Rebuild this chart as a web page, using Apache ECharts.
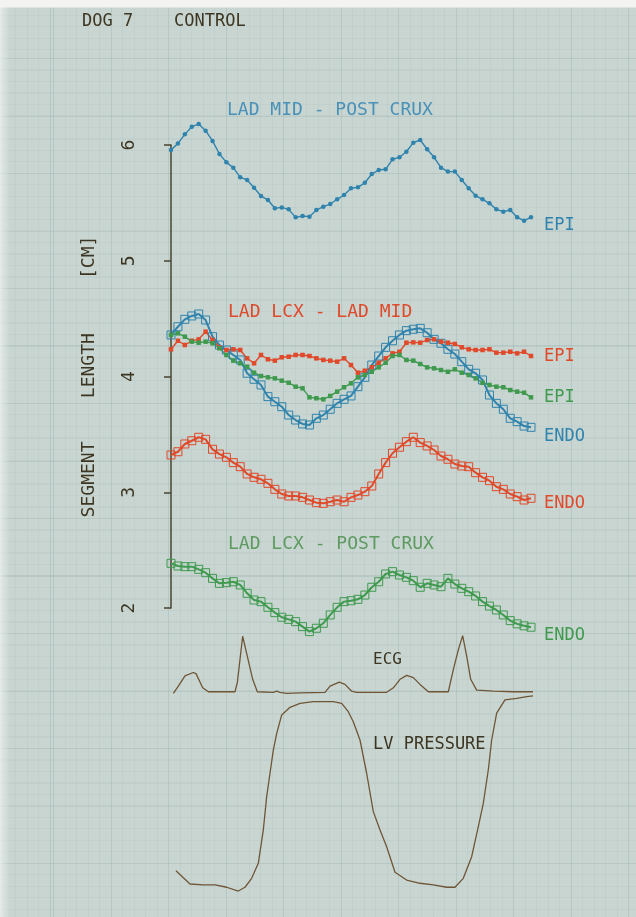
<!DOCTYPE html>
<html>
<head>
<meta charset="utf-8">
<script src="https://cdn.jsdelivr.net/npm/echarts@6/dist/echarts.min.js"></script>
<style>
html,body{margin:0;padding:0;}
#chart{
  width:636px;height:917px;
  background-color:#c8d5d1;
  background-image:
    linear-gradient(to bottom, #f3f4f1 0, #f3f4f1 7px, rgba(0,0,0,0) 8px),
    linear-gradient(to right, rgba(235,240,238,0.8) 0, rgba(235,240,238,0.0) 10px),
    repeating-linear-gradient(to right, rgba(100,135,135,0.12) 0 1px, rgba(0,0,0,0) 1px 57.5px),
    repeating-linear-gradient(to bottom, rgba(100,135,135,0.12) 0 1px, rgba(0,0,0,0) 1px 57.5px),
    repeating-linear-gradient(to right, rgba(100,135,135,0.06) 0 1px, rgba(0,0,0,0) 1px 11.5px),
    repeating-linear-gradient(to bottom, rgba(100,135,135,0.06) 0 1px, rgba(0,0,0,0) 1px 11.5px);
  background-position:0 0,0 0,53px 0,0 58px,53px 0,0 58px;
}
</style>
</head>
<body>
<div id="chart"></div>
<script>
// ---- data (segment length, cm) sampled at 53 equally spaced instants ----
const yTicks = [2, 3, 4, 5, 6];
const ladMidPostCruxEpi = [5.957,6.014,6.092,6.158,6.181,6.124,6.035,5.922,5.850,5.804,5.721,5.698,5.631,5.559,5.525,5.453,5.461,5.444,5.375,5.387,5.381,5.438,5.467,5.490,5.531,5.568,5.626,5.634,5.674,5.749,5.784,5.790,5.876,5.894,5.942,6.020,6.043,5.963,5.894,5.804,5.770,5.770,5.698,5.626,5.562,5.531,5.496,5.444,5.424,5.438,5.375,5.346,5.375];
const ladLcxLadMidEpi = [4.235,4.309,4.272,4.309,4.321,4.387,4.315,4.252,4.229,4.235,4.229,4.157,4.114,4.186,4.149,4.137,4.166,4.171,4.186,4.186,4.177,4.157,4.143,4.137,4.128,4.157,4.099,4.033,4.050,4.079,4.119,4.157,4.200,4.214,4.292,4.295,4.292,4.315,4.321,4.301,4.292,4.281,4.252,4.235,4.229,4.229,4.235,4.206,4.206,4.214,4.200,4.214,4.177];
const ladLcxPostCruxEpi = [4.359,4.373,4.344,4.301,4.292,4.301,4.287,4.244,4.186,4.137,4.114,4.085,4.033,4.004,3.993,3.984,3.964,3.946,3.912,3.898,3.820,3.812,3.803,3.832,3.869,3.907,3.941,3.993,4.013,4.041,4.079,4.119,4.177,4.186,4.143,4.137,4.108,4.079,4.071,4.056,4.041,4.062,4.033,4.013,3.984,3.946,3.927,3.912,3.907,3.883,3.869,3.860,3.820];
const ladMidPostCruxEndo = [4.359,4.430,4.494,4.523,4.540,4.488,4.344,4.272,4.229,4.186,4.143,4.028,3.976,3.927,3.826,3.782,3.739,3.667,3.624,3.590,3.581,3.639,3.667,3.717,3.768,3.803,3.832,3.912,3.993,4.099,4.177,4.252,4.309,4.359,4.396,4.408,4.416,4.378,4.321,4.287,4.235,4.194,4.128,4.062,4.028,3.970,3.840,3.768,3.717,3.639,3.610,3.572,3.561];
const ladLcxLadMidEndo = [3.322,3.350,3.417,3.445,3.475,3.457,3.371,3.330,3.302,3.256,3.221,3.158,3.129,3.112,3.077,3.025,2.985,2.968,2.968,2.956,2.933,2.910,2.904,2.918,2.933,2.918,2.956,2.976,3.005,3.054,3.158,3.256,3.337,3.389,3.437,3.475,3.429,3.400,3.365,3.313,3.285,3.244,3.227,3.221,3.169,3.129,3.100,3.048,3.025,2.985,2.962,2.933,2.948];
const ladLcxPostCruxEndo = [2.386,2.363,2.357,2.357,2.334,2.305,2.256,2.213,2.219,2.227,2.199,2.127,2.069,2.055,2.006,1.960,1.920,1.902,1.882,1.839,1.796,1.825,1.868,1.940,2.006,2.055,2.063,2.075,2.112,2.179,2.227,2.294,2.314,2.285,2.265,2.236,2.179,2.213,2.199,2.184,2.256,2.207,2.170,2.141,2.104,2.055,2.017,1.983,1.940,1.891,1.863,1.846,1.834];

// ---- ECG (time in sample units, relative amplitude) ----
const ecgT = [0.34,1.06,2.02,3.22,3.61,4.58,5.39,9.24,9.58,10.35,11.02,11.80,12.47,14.78,15.26,15.74,16.71,18.63,22.24,22.97,24.31,25.13,26.10,26.82,31.15,32.12,33.08,34.04,35.00,35.97,37.17,40.06,40.78,41.50,42.13,42.71,43.29,44.15,46.56,49.45,52.33];
const ecgA = [-0.02,0.11,0.29,0.35,0.33,0.08,0.01,0.01,0.17,0.99,0.64,0.23,0.01,0.00,0.02,0.00,-0.02,-0.01,0.00,0.11,0.18,0.14,0.02,0.00,0.00,0.08,0.23,0.30,0.26,0.14,0.01,0.01,0.40,0.75,1.00,0.64,0.23,0.04,0.02,0.01,0.01];

// ---- LV pressure (time in sample units, mmHg) ----
const lvT = [0.72,2.74,4.67,6.36,8.04,9.72,10.69,11.65,12.61,13.33,13.82,14.30,14.78,15.27,15.99,17.19,18.63,20.56,23.44,24.65,25.61,26.33,27.30,28.26,29.22,30.19,31.15,32.36,34.04,35.97,37.89,39.82,41.02,42.22,43.43,44.39,45.11,45.83,46.32,47.04,48.24,49.93,51.38,52.33];
const lvP = [11.2,4.2,3.7,3.7,2.5,0.5,2.5,7.2,15.1,32.6,50.2,62.5,74.7,83.5,93.2,97.2,99.3,100.2,100.2,99.3,94.9,89.6,80.0,62.5,42.3,32.6,23.8,10.4,6.3,4.6,3.7,2.5,2.5,7.2,18.6,34.4,46.7,64.2,80.0,94.1,101.1,101.9,102.8,103.2];

const FONT = '"DejaVu Sans Mono", "Liberation Mono", monospace';
const BLUE = '#2f83ad', RED = '#e0492a', GREEN = '#3f9a4e', INK = '#3d3622', TRACE = '#6f5536';

const idx = arr => arr.map((v, i) => [i, v]);
const pair = (t, v) => t.map((x, i) => [x, v[i]]);

function epi(name, data, color, sym, dy) {
  return {
    name, type: 'line', xAxisIndex: 0, yAxisIndex: 0, data: idx(data), clip: false,
    symbol: sym, symbolSize: 4.5, showSymbol: true,
    lineStyle: { color, width: 1.4 }, itemStyle: { color },
    endLabel: { show: true, formatter: 'EPI', color, fontFamily: FONT, fontSize: 17, distance: 13, offset: [0, dy] }
  };
}
function endo(name, data, color, dy) {
  return {
    name, type: 'line', xAxisIndex: 0, yAxisIndex: 0, data: idx(data), clip: false,
    symbol: 'rect', symbolSize: 8, showSymbol: true,
    lineStyle: { color, width: 2 },
    itemStyle: { color: 'rgba(0,0,0,0)', borderColor: color, borderWidth: 1 },
    endLabel: { show: true, formatter: 'ENDO', color, fontFamily: FONT, fontSize: 17, distance: 13, offset: [0, dy] }
  };
}

const chart = echarts.init(document.getElementById('chart'), null, { renderer: 'canvas' });
const hiddenX = gi => ({ type: 'value', gridIndex: gi, min: 0, max: 52, show: false });

chart.setOption({
  animation: false,
  backgroundColor: 'transparent',
  grid: [
    { left: 171, top: 145, width: 360, height: 463 },
    { left: 171, top: 630, width: 360, height: 68 },
    { left: 171, top: 683, width: 360, height: 209 }
  ],
  xAxis: [hiddenX(0), hiddenX(1), hiddenX(2)],
  yAxis: [
    {
      type: 'value', gridIndex: 0, min: yTicks[0], max: yTicks[yTicks.length - 1], interval: 1,
      position: 'left', offset: 29,
      axisLine: { show: true, lineStyle: { color: '#4a4430', width: 1.5 } },
      axisTick: { show: true, length: 7, lineStyle: { color: '#4a4430', width: 1.5 } },
      axisLabel: { rotate: 90, margin: 4, color: INK, fontFamily: FONT, fontSize: 18 },
      splitLine: { show: false },
      name: 'SEGMENT    LENGTH     [CM]', nameLocation: 'middle', nameRotate: 90, nameGap: 44,
      nameTextStyle: { color: INK, fontFamily: FONT, fontSize: 18, padding: [0, 0, 0, 0] }
    },
    { type: 'value', gridIndex: 1, min: -0.1, max: 1.1, show: false },
    { type: 'value', gridIndex: 2, min: 0, max: 110, show: false }
  ],
  graphic: [
    { type: 'text', left: 82, top: 13, style: { text: 'DOG 7    CONTROL', fill: INK, font: '17px ' + FONT } },
    { type: 'text', left: 227, top: 101, style: { text: 'LAD MID - POST CRUX', fill: '#4a91b8', font: '18px ' + FONT } },
    { type: 'text', left: 228, top: 303, style: { text: 'LAD LCX - LAD MID', fill: RED, font: '18px ' + FONT } },
    { type: 'text', left: 228, top: 535, style: { text: 'LAD LCX - POST CRUX', fill: '#5e9a60', font: '18px ' + FONT } },
    { type: 'text', left: 373, top: 652, style: { text: 'ECG', fill: INK, font: '16px ' + FONT } },
    { type: 'text', left: 373, top: 736, style: { text: 'LV PRESSURE', fill: INK, font: '17px ' + FONT } }
  ],
  series: [
    epi('LAD MID - POST CRUX EPI', ladMidPostCruxEpi, BLUE, 'circle', 8),
    endo('LAD MID - POST CRUX ENDO', ladMidPostCruxEndo, BLUE, 9),
    epi('LAD LCX - LAD MID EPI', ladLcxLadMidEpi, RED, 'rect', 1),
    endo('LAD LCX - LAD MID ENDO', ladLcxLadMidEndo, RED, 5),
    epi('LAD LCX - POST CRUX EPI', ladLcxPostCruxEpi, GREEN, 'rect', 0),
    endo('LAD LCX - POST CRUX ENDO', ladLcxPostCruxEndo, GREEN, 8),
    { name: 'ECG', type: 'line', xAxisIndex: 1, yAxisIndex: 1, data: pair(ecgT, ecgA), showSymbol: false, symbol: 'none', clip: false, lineStyle: { color: TRACE, width: 1.3 } },
    { name: 'LV PRESSURE', type: 'line', xAxisIndex: 2, yAxisIndex: 2, data: pair(lvT, lvP), showSymbol: false, symbol: 'none', clip: false, lineStyle: { color: TRACE, width: 1.3 } }
  ]
});
</script>
</body>
</html>
